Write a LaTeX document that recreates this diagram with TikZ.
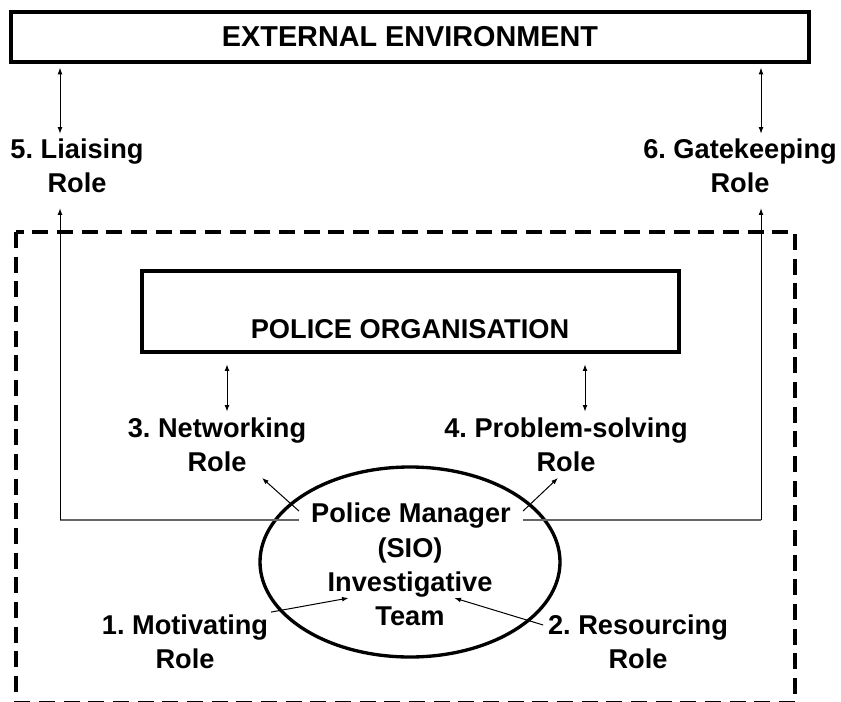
\documentclass[tikz,border=0pt]{standalone}
\usepackage{fontspec}
\setmainfont{Liberation Sans}
\usetikzlibrary{arrows.meta,calc,shapes.geometric}

\tikzset{
  >={Latex[length=5pt,width=3.6pt]},
  rolelabel/.style={font=\fontsize{20.4pt}{25.5pt}\selectfont\bfseries\frenchspacing, align=center, inner sep=2pt},
  heavybox/.style={draw, line width=2.4pt},
  link/.style={line width=0.75pt},
  baseline line/.style={draw=black!60, line width=1.1pt},
}

\begin{document}
\begin{tikzpicture}[x=0.75pt,y=-0.75pt]
\useasboundingbox (0,0) rectangle (841,702);

\draw[line width=3pt, dash pattern=on 12pt off 6.5pt] (16,232) rectangle (795,702.5);

\node[heavybox, minimum width=598.5pt, minimum height=37.5pt, font=\fontsize{21.6pt}{24pt}\selectfont\bfseries] (ext) at (410,37) {EXTERNAL ENVIRONMENT};

\node[heavybox, minimum width=402.75pt, minimum height=60.75pt] (porg) at (410.5,311.5) {};
\node[rolelabel] (porgtext) at (410,329) {POLICE ORGANISATION};

\node[draw, ellipse, line width=2.5pt, minimum width=225pt, minimum height=142.5pt, inner sep=0pt] (circ) at (410,562) {};
\node[rolelabel, anchor=base, inner xsep=9pt] (pm) at (411,522) {Police Manager};
\node[rolelabel] (team) at (410,582) {(SIO)\\Investigative\\Team};

\node[rolelabel] (liaise) at (77,166) {5. Liaising\\Role};
\node[rolelabel] (gate) at (740,166) {6. Gatekeeping\\Role};
\node[rolelabel] (netw) at (217,445) {3. Networking\\Role};
\node[rolelabel] (prob) at (566,445) {4. Problem-solving\\Role};
\node[rolelabel] (motiv) at (185,642) {1. Motivating\\Role};
\node[rolelabel] (res) at (638,642) {2. Resourcing\\Role};

\coordinate (lcorner) at (60,520);
\coordinate (rcorner) at (761,520);
\coordinate (na) at ($(netw.north)+(10,0)$);
\coordinate (pa) at ($(prob.north)+(19,0)$);

\draw[baseline line] (lcorner) -- (lcorner -| pm.west);
\draw[baseline line] (rcorner -| pm.east) -- (rcorner);
\draw[link,->,shorten >=9.2pt] (lcorner) -- (lcorner |- liaise.south);
\draw[link,->,shorten >=9.2pt] (rcorner) -- (rcorner |- gate.south);

\draw[link,<->,shorten <=3pt,shorten >=1.7pt] (ext.south -| lcorner) -- (liaise.north -| lcorner);
\draw[link,<->,shorten <=3pt,shorten >=1.7pt] (ext.south -| rcorner) -- (gate.north -| rcorner);

\draw[link,<->,shorten <=8pt,shorten >=2.5pt] (na |- porg.south) -- (na);
\draw[link,<->,shorten <=8pt,shorten >=2.5pt] (pa |- porg.south) -- (pa);

\draw[link,->] ($(pm.west)+(0,-4)$) -- ($(netw.south)+(45,3)$);
\draw[link,->] ($(pm.east)+(0,-4)$) -- ($(prob.south)+(-8,3)$);
\draw[link,->] (motiv.north east) -- ($(team.west)+(24,16)$);
\draw[link,->] ($(res.west)+(-2,-17)$) -- ($(team.east)+(-41,16)$);

\end{tikzpicture}
\end{document}
